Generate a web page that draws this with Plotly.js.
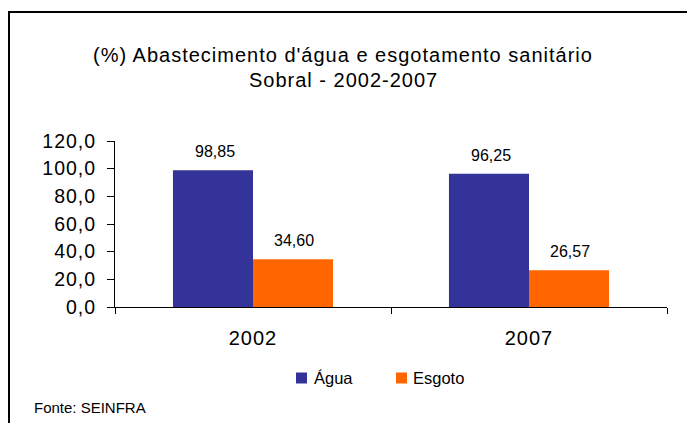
<!DOCTYPE html>
<html>
<head>
<meta charset="utf-8">
<script src="https://cdn.plot.ly/plotly-3.0.1.min.js"></script>
<style>
html,body{margin:0;padding:0;background:#fff;}
#wrap{position:relative;width:687px;height:423px;overflow:hidden;}
#frame{position:absolute;left:8px;top:11px;width:800px;height:600px;border:2px solid #000;box-sizing:border-box;pointer-events:none;z-index:5;}
#chart{position:absolute;left:0;top:0;width:687px;height:423px;}
#chart .ytick text{letter-spacing:1px;}
#chart .xtick text{letter-spacing:1px;}
</style>
</head>
<body>
<div id="wrap"><div id="chart"></div><div id="frame"></div></div>
<script>
const categories = ['2002', '2007'];
const agua = [98.85, 96.25];
const esgoto = [34.60, 26.57];
const seriesNames = ['Água', 'Esgoto'];
const seriesColors = ['#333399', '#FF6600'];
const yTicks = [0, 20, 40, 60, 80, 100, 120];
const titleLines = ["(%) Abastecimento d'água e esgotamento sanitário", 'Sobral - 2002-2007'];
const sourceText = 'Fonte: SEINFRA';

const FONT = 'Liberation Sans, Arial, sans-serif';

const traces = [
  {type:'bar', name:seriesNames[0], x:categories, y:agua, marker:{color:seriesColors[0]}, hoverinfo:'none'},
  {type:'bar', name:seriesNames[1], x:categories, y:esgoto, marker:{color:seriesColors[1]}, hoverinfo:'none'}
];

const plotLeft = 115, plotRight = 667, plotW = plotRight - plotLeft;
const plotTop = 141, plotBottom = 307, plotH = plotBottom - plotTop;
const px = p => (p - plotLeft) / plotW;
const py = p => (plotBottom - p) / plotH;

const annotations = [];
[agua, esgoto].forEach((vals, si) => {
  vals.forEach((v, i) => {
    annotations.push({
      xref:'x', yref:'y', x:i, y:v,
      text: v.toFixed(2).replace('.', ','),
      showarrow:false, yanchor:'bottom', yshift:8,
      xshift: si === 0 ? -38 : 41,
      font:{family:FONT, size:16, color:'#000'}
    });
  });
});
annotations.push({
  xref:'paper', yref:'paper', x:px(32), y:py(407), xanchor:'left', yanchor:'middle',
  text:sourceText, showarrow:false,
  font:{family:FONT, size:15, color:'#000'}
});
const titleY = [55, 80];
titleLines.forEach((t, k) => {
  annotations.push({
    xref:'paper', yref:'paper', x:px(343), xanchor:'center', y:py(titleY[k]), yanchor:'middle',
    text:t, showarrow:false,
    font:{family:FONT, size:20, color:'#000'}
  });
});

// manual legend (square + label) for series
const legendSq = [[296, 307], [396, 407]];
const legendTxt = [312, 411];
const shapes = [];
seriesNames.forEach((n, k) => {
  shapes.push({type:'rect', xref:'paper', yref:'paper',
    x0:px(legendSq[k][0]), x1:px(legendSq[k][1]), y0:py(383.5), y1:py(372.5),
    fillcolor:seriesColors[k], line:{width:0}});
  annotations.push({xref:'paper', yref:'paper', x:px(legendTxt[k]), y:py(378), xanchor:'left', yanchor:'middle',
    text:n, showarrow:false, font:{family:FONT, size:16.5, color:'#000'}});
});

const layout = {
  width:687, height:423,
  margin:{l:plotLeft, r:687-plotRight, t:plotTop, b:423-plotBottom, pad:0},
  paper_bgcolor:'#fff', plot_bgcolor:'#fff',
  separators:',.',
  barmode:'group', bargap:0.42, bargroupgap:0,
  showlegend:false,
  xaxis:{type:'category', range:[-0.5, 1.5], autorange:false, showline:true, linecolor:'#000', linewidth:1,
         ticks:'outside', tickson:'boundaries', ticklen:6, tickcolor:'#000',
         ticklabelstandoff:13, tickangle:0,
         tickfont:{family:FONT, size:20, color:'#000'}, showgrid:false, zeroline:false},
  yaxis:{range:[0,120], autorange:false, tickvals:yTicks, tickformat:'.1f', showline:true, linecolor:'#000', linewidth:1,
         ticks:'outside', ticklen:7, tickcolor:'#000', ticklabelstandoff:7,
         tickfont:{family:FONT, size:19.5, color:'#000'}, showgrid:false, zeroline:false},
  annotations:annotations,
  shapes:shapes
};

Plotly.newPlot('chart', traces, layout, {displayModeBar:false, staticPlot:true}).then(() => {
  document.querySelectorAll('#chart .annotation-text').forEach(el => {
    if (titleLines.includes(el.textContent)) el.style.letterSpacing = '1px';
  });
});
</script>
</body>
</html>
